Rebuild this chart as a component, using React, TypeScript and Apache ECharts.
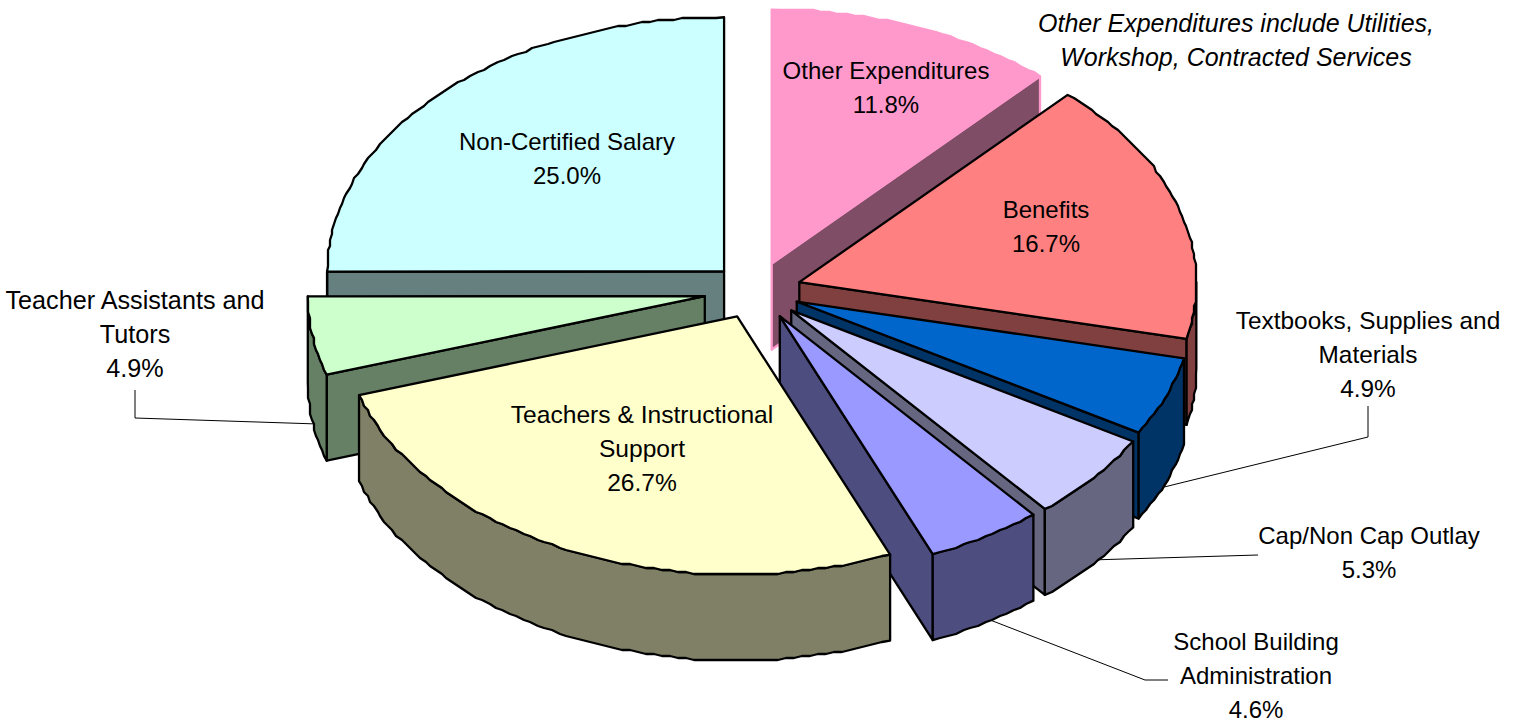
import React, { useEffect, useRef } from "react";
import * as echarts from "echarts";

// Slices clockwise from twelve o'clock
const categories = [
  "Other Expenditures",
  "Benefits",
  "Textbooks, Supplies and Materials",
  "Cap/Non Cap Outlay",
  "School Building Administration",
  "Teachers & Instructional Support",
  "Teacher Assistants and Tutors",
  "Non-Certified Salary",
];
const values = [11.8, 16.7, 4.9, 5.3, 4.6, 26.7, 4.9, 25.0];
const topColors = ["#FF99CC", "#FF8080", "#0066CC", "#CCCCFF", "#9999FF", "#FFFFCC", "#CCFFCC", "#CCFFFF"];
const wallColors = ["#804D66", "#804040", "#003366", "#666680", "#4D4D80", "#808066", "#668066", "#668080"];
const edgeColors = ["#FF99CC", "#000000", "#000000", "#000000", "#000000", "#000000", "#000000", "#000000"];
const labelLines = [
  ["Other Expenditures"],
  ["Benefits"],
  ["Textbooks, Supplies and", "Materials"],
  ["Cap/Non Cap Outlay"],
  ["School Building", "Administration"],
  ["Teachers & Instructional", "Support"],
  ["Teacher Assistants and", "Tutors"],
  ["Non-Certified Salary"],
];
const noteLines = ["Other Expenditures include Utilities,", "Workshop, Contracted Services"];

// Layout of the tilted pie
const CX = 755;
const CY = 291;
const RX = 397;
const RY_BACK = 254;
const RY_FRONT = 258;
const DEPTH = 86;
const explode = [0.116, 0.117, 0.113, 0.119, 0.117, 0.11, 0.128, 0.11];
const GRID = 2;
const STEP = 1.2;

const labelTops: number[][] = [
  [886, 70],
  [1046, 209],
  [1368, 320],
  [1369, 535],
  [1256, 641],
  [642, 414],
  [135, 300],
  [567, 141],
];
const labelFontSizes = [24, 24, 24.4, 24, 24, 24.6, 25.2, 24];
const LINE_GAP = 34;
const leaders: number[][][] = [
  [],
  [],
  [[1160, 488], [1368, 437], [1368, 406]],
  [[1090, 560], [1258, 555]],
  [[985, 618], [1145, 680], [1168, 680]],
  [],
  [[135, 390], [135, 418], [318, 424]],
  [],
];

const total = values.reduce((a, b) => a + b, 0);
const rad = (d: number) => (d * Math.PI) / 180;
// Small tilt correction of the projection around the front of the pie
const warp = (a: number) => a + 1.3 * Math.exp(-(((a - 156) / 25) ** 2));
const slices = values.map((v, i) => {
  const start = (values.slice(0, i).reduce((a, b) => a + b, 0) / total) * 360;
  const end = start + (v / total) * 360;
  const mid = (start + end) / 2;
  return {
    i,
    start: warp(start),
    end: warp(end),
    mid,
    ax: CX + explode[i] * RX * Math.sin(rad(mid)),
    ay: CY - explode[i] * RY_BACK * Math.cos(rad(mid)),
  };
});
// Back-to-front paint order
const paintOrder = [...slices].sort((a, b) => Math.cos(rad(b.mid)) - Math.cos(rad(a.mid)));

const rimPoint = (s: { ax: number; ay: number }, a: number, exact: boolean) => {
  const c = Math.cos(rad(a));
  const x = s.ax + RX * Math.sin(rad(a));
  const y = s.ay - (c < 0 ? RY_FRONT : RY_BACK) * c;
  return exact ? [x, y] : [Math.round(x / GRID) * GRID, Math.round(y / GRID) * GRID];
};
const arc = (s: { ax: number; ay: number }, from: number, to: number) => {
  const n = Math.max(1, Math.round((to - from) / STEP));
  const pts: number[][] = [];
  for (let k = 0; k <= n; k++) {
    pts.push(rimPoint(s, from + ((to - from) * k) / n, k === 0 || k === n));
  }
  return pts;
};
const drop = (pts: number[][]) => pts.map(([x, y]) => [x, y + DEPTH]);

const renderSlice = (_: unknown, api: { value: (d: number) => number }) => {
  const s = slices[api.value(0)];
  const base = { stroke: edgeColors[s.i], lineWidth: 2.3, lineJoin: "round" };
  const wall = { ...base, fill: wallColors[s.i] };
  const apex = [s.ax, s.ay];
  const children: unknown[] = [];
  const face = (a: number) => {
    const e = rimPoint(s, a, true);
    children.push({ type: "polygon", shape: { points: [apex, e, ...drop([e]), ...drop([apex])] }, style: wall });
  };
  if (Math.sin(rad(s.start)) < -1e-6) face(s.start);
  if (Math.sin(rad(s.end)) > 1e-6) face(s.end);
  const from = Math.max(s.start, 90);
  const to = Math.min(s.end, 270);
  if (to > from) {
    const top = arc(s, from, to);
    children.push({
      type: "polygon",
      shape: { points: [...top, ...drop(top).reverse()] },
      style: wall,
    });
  }
  children.push({
    type: "polygon",
    shape: { points: [apex, ...arc(s, s.start, s.end)] },
    style: { ...base, fill: topColors[s.i] },
  });
  return { type: "group", children };
};

const textStyle = { fontFamily: "Liberation Sans", fontSize: 24, fill: "#000000", textAlign: "center", textVerticalAlign: "middle" };

const graphicElements: unknown[] = [];
labelLines.forEach((lines, i) => {
  const all = [...lines, `${values[i].toFixed(1)}%`];
  const [x, top] = labelTops[i];
  all.forEach((t, k) => {
    graphicElements.push({
      type: "text",
      z: 10,
      x,
      y: top + k * LINE_GAP,
      style: { ...textStyle, fontSize: labelFontSizes[i], text: t },
    });
  });
});
noteLines.forEach((t, k) => {
  graphicElements.push({
    type: "text",
    z: 10,
    x: 1236,
    y: 23 + k * LINE_GAP,
    style: { ...textStyle, fontSize: 25, text: t, fontStyle: "italic" },
  });
});

export default function App() {
  const ref = useRef<HTMLDivElement>(null);
  useEffect(() => {
    document.body.style.margin = "0";
    const chart = echarts.init(ref.current!, undefined, { renderer: "svg" });
    chart.setOption({
      animation: false,
      backgroundColor: "#FFFFFF",
      series: [
        {
          type: "custom",
          coordinateSystem: "none",
          silent: true,
          z: 1,
          data: leaders.map((_, i) => [i]).filter(([i]) => leaders[i].length > 0),
          renderItem: (_: unknown, api: { value: (d: number) => number }) => ({
            type: "polyline",
            shape: { points: leaders[api.value(0)] },
            style: { stroke: "#000000", lineWidth: 1, fill: "none" },
          }),
        },
        {
          type: "custom",
          coordinateSystem: "none",
          silent: true,
          z: 2,
          data: paintOrder.map((s) => [s.i, values[s.i]]),
          renderItem: renderSlice,
        },
      ],
      graphic: { elements: graphicElements },
    });
    return () => chart.dispose();
  }, []);
  return <div ref={ref} style={{ width: 1520, height: 721 }} />;
}
